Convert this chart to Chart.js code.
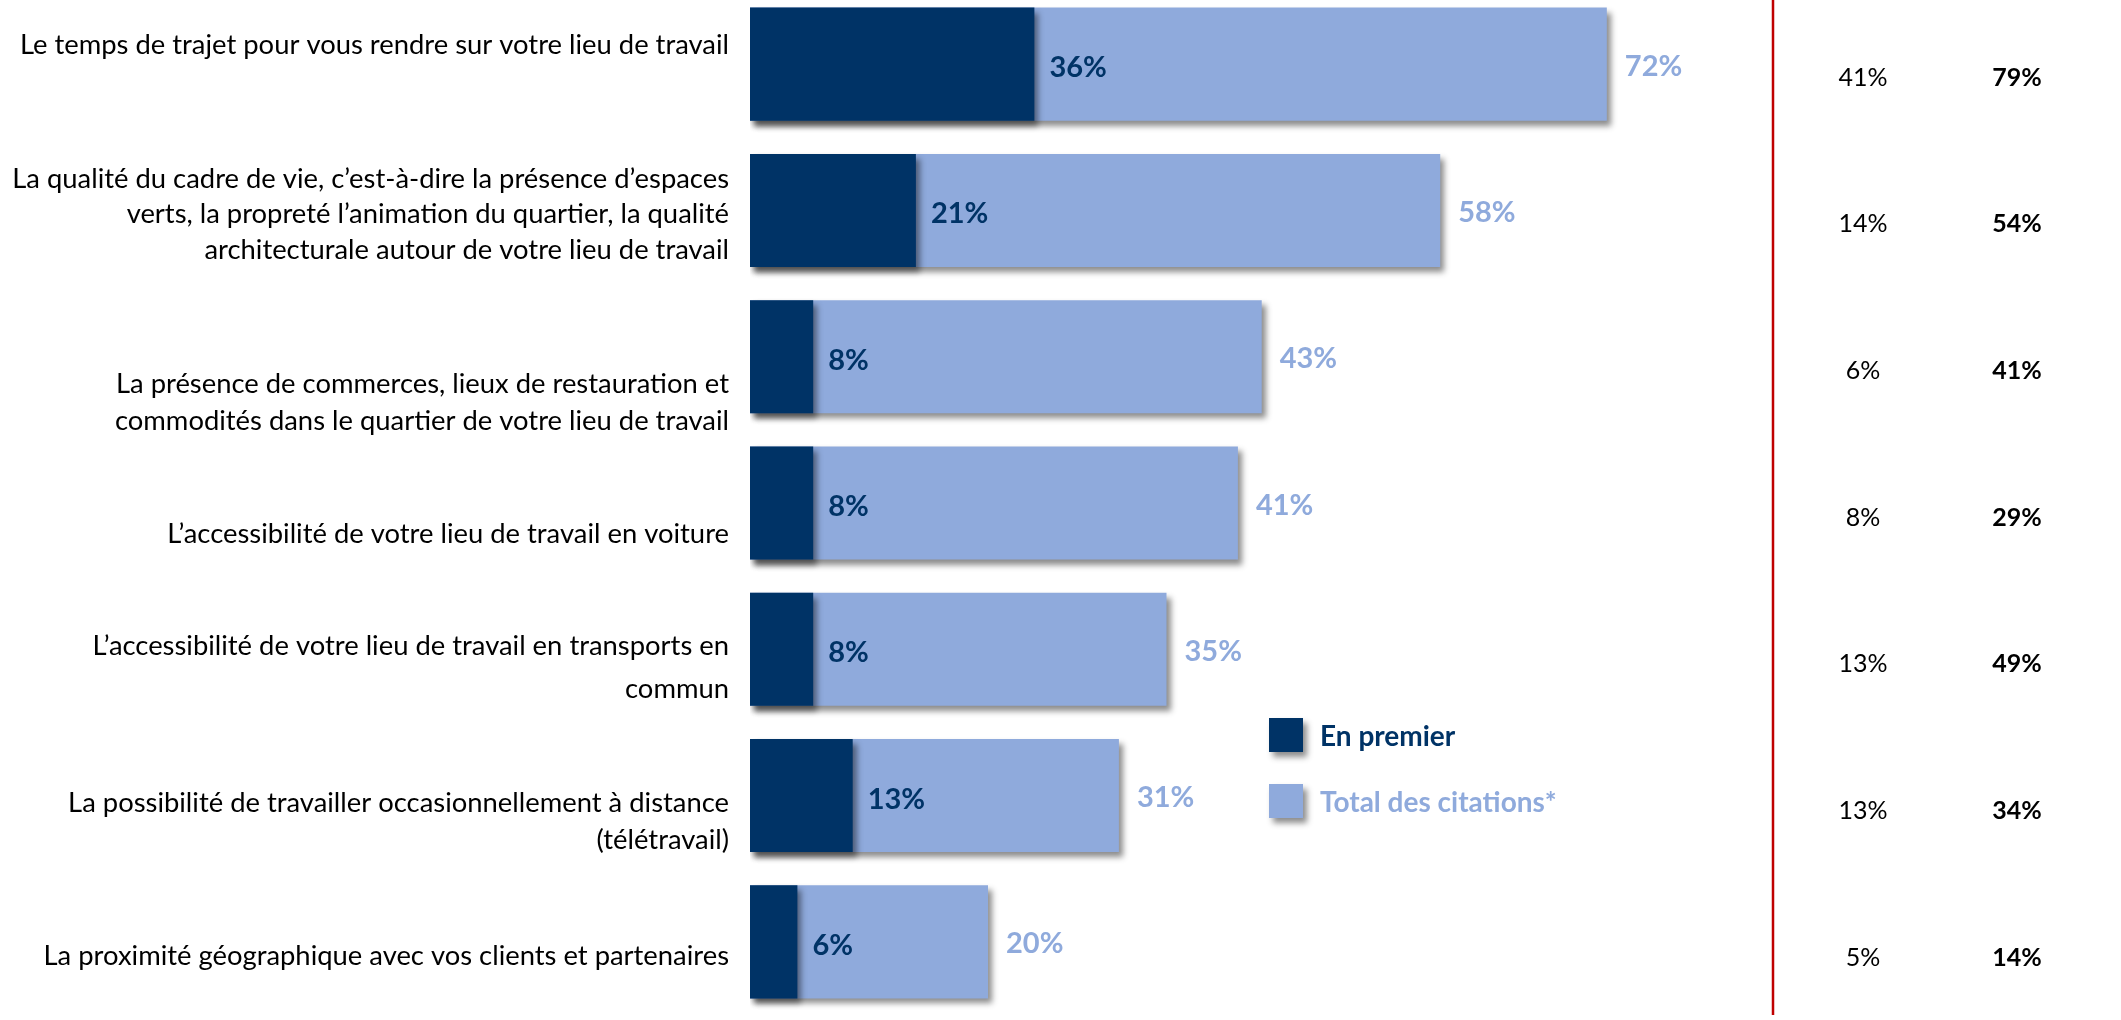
<!DOCTYPE html>
<html>
<head>
<meta charset="utf-8">
<script src="https://cdn.jsdelivr.net/npm/chart.js@4.4.1/dist/chart.umd.min.js"></script>
<style>
  html, body { margin: 0; padding: 0; background: #ffffff; overflow: hidden; }
  #wrap { position: absolute; left: 0; top: -9px; width: 2121px; height: 1024px; }
</style>
</head>
<body>
<div id="wrap"><canvas id="c"></canvas></div>
<script>
// ---- Data ----
const categories = [
  ["Le temps de trajet pour vous rendre sur votre lieu de travail"],
  ["La qualité du cadre de vie, c’est-à-dire la présence d’espaces",
   "verts, la propreté l’animation du quartier, la qualité",
   "architecturale autour de votre lieu de travail"],
  ["La présence de commerces, lieux de restauration et",
   "commodités dans le quartier de votre lieu de travail"],
  ["L’accessibilité de votre lieu de travail en voiture"],
  ["L’accessibilité de votre lieu de travail en transports en",
   "commun"],
  ["La possibilité de travailler occasionnellement à distance",
   "(télétravail)"],
  ["La proximité géographique avec vos clients et partenaires"]
];
const seriesNames = ["En premier", "Total des citations*"];
const enPremier = [36, 21, 8, 8, 8, 13, 6];
const totalCitations = [72, 58, 43, 41, 35, 31, 20];
const prevEnPremier = [41, 14, 6, 8, 13, 13, 5];
const prevTotal = [79, 54, 41, 29, 49, 34, 14];

// ---- Styles / layout (not data) ----
const DARK = '#003366';
const LIGHT = '#8FAADC';
const FONT = 'Lato, "Liberation Sans", sans-serif';
const PAGE_TOP = -9; // canvas page offset
const labelLineOffsets = [[-10.5], [-22.7, 12.8, 48.3], [36, 73], [40], [5.7, 48.7], [16.5, 53.5], [23.3]];

const shadowPlugin = {
  id: 'barShadow',
  beforeDatasetDraw(chart) {
    const ctx = chart.ctx;
    ctx.save();
    ctx.shadowColor = 'rgba(0,0,0,0.45)';
    ctx.shadowBlur = 6;
    ctx.shadowOffsetX = 4;
    ctx.shadowOffsetY = 5;
  },
  afterDatasetDraw(chart) { chart.ctx.restore(); }
};

const decoPlugin = {
  id: 'deco',
  afterDatasetsDraw(chart) {
    const ctx = chart.ctx;
    const y = chart.scales.y, x = chart.scales.x, x2 = chart.scales.x2;
    const area = chart.chartArea;
    ctx.save();
    // category labels
    ctx.fillStyle = '#000000';
    ctx.font = '27.4px ' + FONT;
    ctx.textAlign = 'right';
    ctx.textBaseline = 'alphabetic';
    categories.forEach((lines, i) => {
      const cy = y.getPixelForValue(i);
      lines.forEach((ln, j) => ctx.fillText(ln, area.left - 21, cy + labelLineOffsets[i][j]));
    });
    // value labels
    ctx.textAlign = 'left';
    ctx.font = 'bold 29px ' + FONT;
    enPremier.forEach((v, i) => {
      const cy = y.getPixelForValue(i);
      ctx.fillStyle = DARK;
      ctx.fillText(v + '%', x2.getPixelForValue(v) + 15, cy + 13);
      ctx.fillStyle = LIGHT;
      ctx.fillText(totalCitations[i] + '%', x.getPixelForValue(totalCitations[i]) + 18, cy + 11.5);
    });
    // red separator
    ctx.strokeStyle = '#C00000';
    ctx.lineWidth = 2.5;
    ctx.beginPath();
    ctx.moveTo(area.right + 1, 0);
    ctx.lineTo(area.right + 1, chart.height);
    ctx.stroke();
    // comparison table
    ctx.textAlign = 'center';
    ctx.fillStyle = '#000000';
    prevEnPremier.forEach((v, i) => {
      const cy = y.getPixelForValue(i) + 21.5 + i * 0.4;
      ctx.font = '25px ' + FONT;
      ctx.fillText(v + '%', area.right + 91, cy);
      ctx.font = 'bold 25px ' + FONT;
      ctx.fillText(prevTotal[i] + '%', area.right + 245, cy);
    });
    // legend
    const legendX = 1269, legendY = [718, 784], box = 34;
    chart.data.datasets.forEach((ds, k) => {
      const by = legendY[k] - PAGE_TOP;
      ctx.save();
      ctx.shadowColor = 'rgba(0,0,0,0.45)';
      ctx.shadowBlur = 6; ctx.shadowOffsetX = 4; ctx.shadowOffsetY = 5;
      ctx.fillStyle = ds.backgroundColor;
      ctx.fillRect(legendX, by, box, box);
      ctx.restore();
      ctx.fillStyle = ds.backgroundColor;
      ctx.font = 'bold 28px ' + FONT;
      ctx.textAlign = 'left';
      ctx.textBaseline = 'middle';
      ctx.fillText(ds.label, legendX + 51, by + box / 2 + 2);
    });
    ctx.restore();
  }
};

new Chart(document.getElementById('c'), {
  type: 'bar',
  data: {
    labels: categories.map(l => l.join(' ')),
    datasets: [
      { label: seriesNames[0], data: enPremier, xAxisID: 'x2', backgroundColor: DARK,
        grouped: false, barPercentage: 0.773, categoryPercentage: 1 },
      { label: seriesNames[1], data: totalCitations, xAxisID: 'x', backgroundColor: LIGHT,
        grouped: false, barPercentage: 0.773, categoryPercentage: 1 }
    ]
  },
  options: {
    indexAxis: 'y',
    responsive: true,
    maintainAspectRatio: false,
    animation: false,
    layout: { padding: { left: 750, right: 349, top: 0, bottom: 0 } },
    scales: {
      y: { display: false, offset: true },
      x: { display: false, min: 0, max: 85.88 },
      x2: { display: false, min: 0, max: 129.37, position: 'top' }
    },
    plugins: { legend: { display: false }, tooltip: { enabled: false } }
  },
  plugins: [shadowPlugin, decoPlugin]
});
</script>
</body>
</html>
